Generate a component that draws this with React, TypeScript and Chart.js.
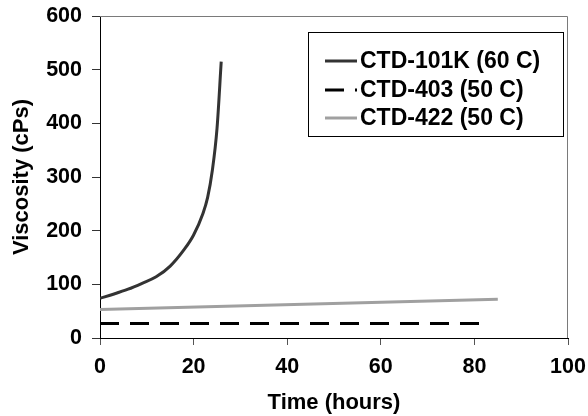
import React, { useEffect, useRef } from "react";
import { Chart, registerables } from "chart.js";

Chart.register(...registerables);

const labels101K = "CTD-101K (60 C)";
const labels403 = "CTD-403 (50 C)";
const labels422 = "CTD-422 (50 C)";

const time101K = [0, 3, 6, 9, 12, 15, 18, 20, 22, 23, 24, 25, 25.9];
const visc101K = [74, 82, 91, 102, 114, 134, 165, 192, 232, 262, 312, 390, 515];

const time403 = [0, 83];
const visc403 = [27, 27];

const time422 = [0, 85];
const visc422 = [53, 72];

const xTicks = [0, 20, 40, 60, 80, 100];
const yTicks = [0, 100, 200, 300, 400, 500, 600];

const FONT = "'Liberation Sans', Arial, sans-serif";

const toPoints = (xs: number[], ys: number[]) => xs.map((x, i) => ({ x, y: ys[i] }));

const framePlugin = {
  id: "frameAndLegend",
  afterDraw(chart: any) {
    const { ctx, chartArea } = chart;
    ctx.save();
    // top and right frame
    ctx.strokeStyle = "#7a7a7a";
    ctx.lineWidth = 1;
    ctx.beginPath();
    ctx.moveTo(chartArea.left, chartArea.top + 0.5);
    ctx.lineTo(chartArea.right - 0.5, chartArea.top + 0.5);
    ctx.lineTo(chartArea.right - 0.5, chartArea.bottom);
    ctx.stroke();

    // legend box
    const bx = 308, by = 32, bw = 255, bh = 104;
    ctx.fillStyle = "#ffffff";
    ctx.fillRect(bx, by, bw, bh);
    ctx.strokeStyle = "#000000";
    ctx.strokeRect(bx + 0.5, by + 0.5, bw, bh);
    const rows = [61, 90, 118];
    chart.data.datasets.forEach((ds: any, i: number) => {
      const y = rows[i];
      ctx.save();
      ctx.strokeStyle = ds.borderColor;
      ctx.lineWidth = ds.borderWidth;
      ctx.setLineDash(ds.borderDash || []);
      ctx.beginPath();
      ctx.moveTo(325, y);
      ctx.lineTo(357, y);
      ctx.stroke();
      ctx.restore();
      ctx.fillStyle = "#000";
      ctx.font = `bold 23px ${FONT}`;
      ctx.textBaseline = "middle";
      ctx.textAlign = "left";
      ctx.fillText(ds.label, 360, y + 1);
    });
    ctx.restore();
  },
};

export default function App() {
  const ref = useRef<HTMLCanvasElement>(null);
  useEffect(() => {
    document.body.style.margin = "0";
    const chart = new Chart(ref.current!, {
      type: "line",
      data: {
        datasets: [
          {
            label: labels101K,
            data: toPoints(time101K, visc101K),
            borderColor: "#333333",
            borderWidth: 3,
            pointRadius: 0,
            cubicInterpolationMode: "monotone",
          },
          {
            label: labels403,
            data: toPoints(time403, visc403),
            borderColor: "#000000",
            borderWidth: 3,
            borderDash: [19, 11],
            pointRadius: 0,
          },
          {
            label: labels422,
            data: toPoints(time422, visc422),
            borderColor: "#a0a0a0",
            borderWidth: 3,
            pointRadius: 0,
          },
        ],
      },
      options: {
        responsive: false,
        animation: false,
        layout: { padding: { top: 16, right: 20, left: 0, bottom: 0 } },
        plugins: { legend: { display: false }, tooltip: { enabled: false } },
        scales: {
          x: {
            type: "linear",
            min: 0,
            max: 100,
            afterBuildTicks: (s: any) => {
              s.ticks = xTicks.map((v) => ({ value: v }));
            },
            afterFit: (s: any) => {
              s.height = 78;
              s.paddingLeft = 0;
              s.paddingRight = 0;
            },
            ticks: {
              color: "#000",
              font: { family: FONT, size: 21.5, weight: "bold" },
              padding: 9,
              maxRotation: 0,
            },
            grid: { drawOnChartArea: false, tickLength: 7, color: "#555" },
            border: { color: "#000", width: 1 },
            title: {
              display: true,
              text: "Time (hours)",
              color: "#000",
              font: { family: FONT, size: 22, weight: "bold" },
              padding: { top: 4, bottom: 0 },
            },
          },
          y: {
            type: "linear",
            min: 0,
            max: 600,
            afterBuildTicks: (s: any) => {
              s.ticks = yTicks.map((v) => ({ value: v }));
            },
            afterFit: (s: any) => {
              s.width = 100;
              s.paddingTop = 0;
              s.paddingBottom = 0;
            },
            ticks: {
              color: "#000",
              font: { family: FONT, size: 21.5, weight: "bold" },
              padding: 10,
            },
            grid: { drawOnChartArea: false, tickLength: 8, color: "#333" },
            border: { color: "#000", width: 1 },
            title: {
              display: true,
              text: "Viscosity (cPs)",
              color: "#000",
              font: { family: FONT, size: 22, weight: "bold" },
              padding: { top: 9, bottom: 0 },
            },
          },
        },
      },
      plugins: [framePlugin],
    } as any);
    return () => chart.destroy();
  }, []);
  return <canvas ref={ref} width={588} height={416} style={{ display: "block" }} />;
}
